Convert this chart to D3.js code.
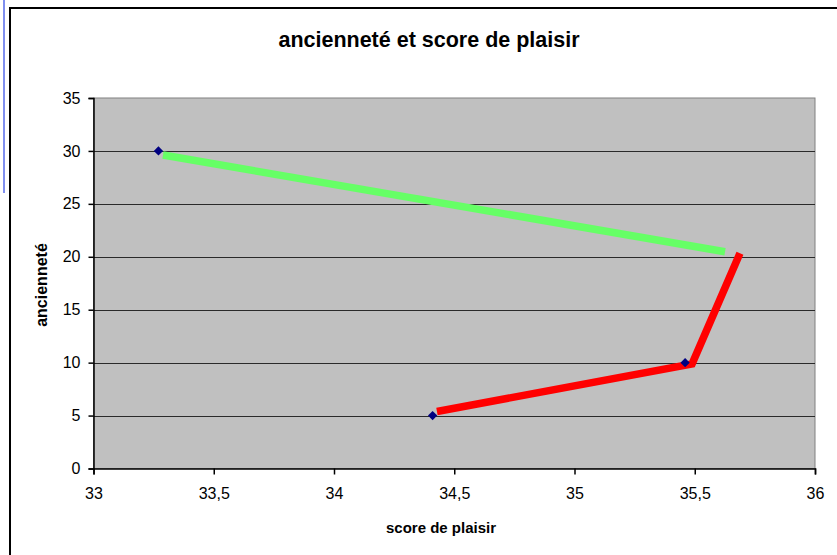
<!DOCTYPE html>
<html><head><meta charset="utf-8">
<script src="https://cdn.jsdelivr.net/npm/d3@7"></script>
<style>html,body{margin:0;padding:0;background:#fff;overflow:hidden}</style>
</head><body>
<svg id="c" width="837" height="555"></svg>
<script>
// Data
const title = "ancienneté et score de plaisir";
const xTitle = "score de plaisir";
const yTitle = "ancienneté";
const scores = [33.27, 35.46, 34.41];
const anciennete = [30, 10, 5];
const greenX = [33.289, 35.626];
const greenY = [29.61, 20.48];
const redX = [34.428, 35.489, 35.688];
const redY = [5.39, 9.885, 20.34];
const xTicks = [33, 33.5, 34, 34.5, 35, 35.5, 36];
const yTicks = [0, 5, 10, 15, 20, 25, 30, 35];

const svg = d3.select("#c");
const F = "'Liberation Sans', Arial, sans-serif";

// spreadsheet bits outside chart
svg.append("line").attr("x1",4).attr("x2",4).attr("y1",0).attr("y2",193)
  .attr("stroke","#7f8ff0").attr("stroke-width",2);
// chart area
svg.append("rect").attr("x",10).attr("y",8).attr("width",900).attr("height",600)
  .attr("fill","#fff").attr("stroke","#000").attr("stroke-width",2);

const x = d3.scaleLinear().domain([33,36]).range([93.5,815]);
const y = d3.scaleLinear().domain([0,35]).range([468.5,98]);

// plot area
svg.append("rect").attr("x",x(33)).attr("y",y(35)).attr("width",x(36)-x(33)).attr("height",y(0)-y(35))
  .attr("fill","#c0c0c0").attr("stroke","#808080").attr("stroke-width",1);

// gridlines
svg.append("g").selectAll("line").data(yTicks.filter(d=>d>0 && d<35)).join("line")
  .attr("x1",x(33)).attr("x2",x(36)).attr("y1",d=>Math.round(y(d))+0.5).attr("y2",d=>Math.round(y(d))+0.5)
  .attr("stroke","#2a2a2a").attr("stroke-width",1);

// axes
const yAxis = svg.append("g").attr("transform",`translate(${x(33)},0)`)
  .call(d3.axisLeft(y).tickValues(yTicks).tickSize(5).tickPadding(8).tickFormat(d3.format("d")));
const xAxis = svg.append("g").attr("transform",`translate(0,${y(0)})`)
  .call(d3.axisBottom(x).tickValues(xTicks).tickSize(6).tickPadding(13).tickFormat(d=>String(d).replace(".",",")));
[yAxis,xAxis].forEach(a=>{
  a.selectAll("text").attr("font-family",F).attr("font-size",16).attr("fill","#000");
  a.selectAll("line,path").attr("stroke","#000").attr("stroke-width",1.5);
});

// drawn lines
const ln = d3.line().x(d=>x(d[0])).y(d=>y(d[1]));
svg.append("path").attr("d",ln(greenX.map((v,i)=>[v,greenY[i]])))
  .attr("fill","none").attr("stroke","#66ff66").attr("stroke-width",7.5).attr("stroke-linecap","butt");
svg.append("path").attr("d",ln(redX.map((v,i)=>[v,redY[i]])))
  .attr("fill","none").attr("stroke","#ff0000").attr("stroke-width",7.5).attr("stroke-linejoin","miter").attr("stroke-linecap","butt");

// markers
svg.append("g").selectAll("path").data(scores.map((v,i)=>[v,anciennete[i]])).join("path")
  .attr("d",d3.symbol(d3.symbolDiamond2,55))
  .attr("transform",d=>`translate(${x(d[0])},${y(d[1])})`)
  .attr("fill","#000080");

// titles
svg.append("text").attr("x",429).attr("y",47).attr("text-anchor","middle")
  .attr("font-family",F).attr("font-weight","bold").attr("font-size",21.5).text(title);
svg.append("text").attr("x",441).attr("y",533).attr("text-anchor","middle")
  .attr("font-family",F).attr("font-weight","bold").attr("font-size",15).text(xTitle);
svg.append("text").attr("transform","translate(47,285) rotate(-90)").attr("text-anchor","middle")
  .attr("font-family",F).attr("font-weight","bold").attr("font-size",16).text(yTitle);
</script>
</body></html>
